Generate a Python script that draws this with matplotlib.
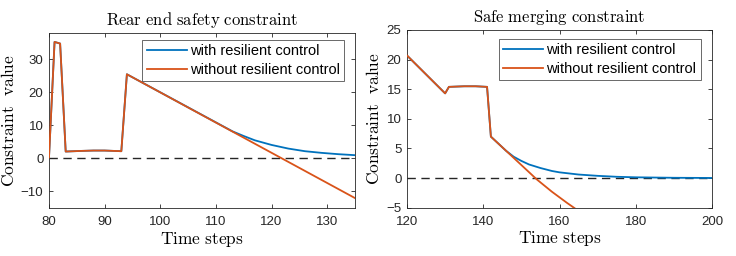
import matplotlib
matplotlib.use("Agg")
import matplotlib.pyplot as plt

plt.rcParams['mathtext.fontset'] = 'cm'
plt.rcParams['font.family'] = ['Liberation Sans', 'DejaVu Sans']

BLUE = '#0072BD'
ORANGE = '#D95319'

# Left panel: rear end safety constraint
rear_x_without = [80, 81, 82, 83, 86, 88, 90, 93, 94, 135]
rear_y_without = [0.3, 35.3, 34.8, 2.1, 2.3, 2.4, 2.4, 2.2, 25.5, -12.0]
rear_x_with = [80, 81, 82, 83, 86, 88, 90, 93, 94, 113, 115, 117, 120, 123, 126, 129, 132, 135]
rear_y_with = [0.3, 35.3, 34.8, 2.1, 2.3, 2.4, 2.4, 2.2, 25.5, 8.2, 6.8, 5.5, 4.1, 3.0, 2.2, 1.7, 1.3, 1.0]

# Right panel: safe merging constraint
merge_x_without = [120, 130, 131, 135, 138, 141, 142, 146, 150, 154, 158, 162, 164]
merge_y_without = [20.7, 14.3, 15.4, 15.5, 15.5, 15.4, 7.0, 4.6, 2.2, -0.2, -2.3, -4.2, -5.1]
merge_x_with = [120, 130, 131, 135, 138, 141, 142, 146, 148, 150, 152, 155, 158, 160, 165, 170, 175, 180, 190, 200]
merge_y_with = [20.7, 14.3, 15.4, 15.5, 15.5, 15.4, 7.0, 4.6, 3.6, 2.9, 2.3, 1.7, 1.2, 0.97, 0.6, 0.38, 0.22, 0.13, 0.05, 0.02]

labels = ['with resilient control', 'without resilient control']

fig = plt.figure(figsize=(7.36, 2.56), dpi=100)
ax1 = fig.add_axes([49/736, 1-208/256, 306/736, 175/256])
ax2 = fig.add_axes([407/736, 1-207.7/256, 305/736, 177.7/256])

def style(ax, title, xlim, ylim, xticks, yticks, anchor):
    ax.plot(xlim, [0, 0], '--', color='#262626', lw=1.0, dashes=(6, 4), zorder=1)
    ax.set_xlim(*xlim)
    ax.set_ylim(*ylim)
    ax.set_xticks(xticks)
    ax.set_yticks(yticks)
    ax.tick_params(direction='in', top=True, right=True, labelsize=9.5, length=3,
                   width=0.6, colors='#262626', labelcolor='#262626')
    ax.tick_params(axis='x', pad=6)
    ax.tick_params(axis='y', pad=4)
    for s in ax.spines.values():
        s.set_linewidth(0.6)
        s.set_color('#262626')
    ax.set_title(r'$\mathrm{' + title.replace(' ', r'\ ') + '}$', fontsize=12, pad=6)
    ax.set_xlabel(r'$\mathrm{Time\ steps}$', fontsize=12.5, labelpad=1)
    ax.set_ylabel(r'$\mathrm{Constraint\ \ value}$', fontsize=12.5, labelpad=3)
    leg = ax.legend(labels, loc='upper right', bbox_to_anchor=anchor, fontsize=10.5,
                    frameon=True, fancybox=False, borderaxespad=0, handlelength=2.75,
                    handletextpad=0.2, labelspacing=0.3, borderpad=0.3)
    leg.get_frame().set_edgecolor('#262626')
    leg.get_frame().set_linewidth(0.6)

ax1.plot(rear_x_with, rear_y_with, color=BLUE, lw=1.3, zorder=2)
ax1.plot(rear_x_without, rear_y_without, color=ORANGE, lw=1.3, zorder=3)
style(ax1, 'Rear end safety constraint', (80, 135), (-15, 38),
      [80, 90, 100, 110, 120, 130], [-10, 0, 10, 20, 30], (0.964, 0.96))

ax2.plot(merge_x_with, merge_y_with, color=BLUE, lw=1.3, zorder=2)
ax2.plot(merge_x_without, merge_y_without, color=ORANGE, lw=1.3, zorder=3)
style(ax2, 'Safe merging constraint', (120, 200), (-5, 25),
      [120, 140, 160, 180, 200], [-5, 0, 5, 10, 15, 20, 25], (0.963, 0.949))

fig.savefig('out.png', dpi=100)
